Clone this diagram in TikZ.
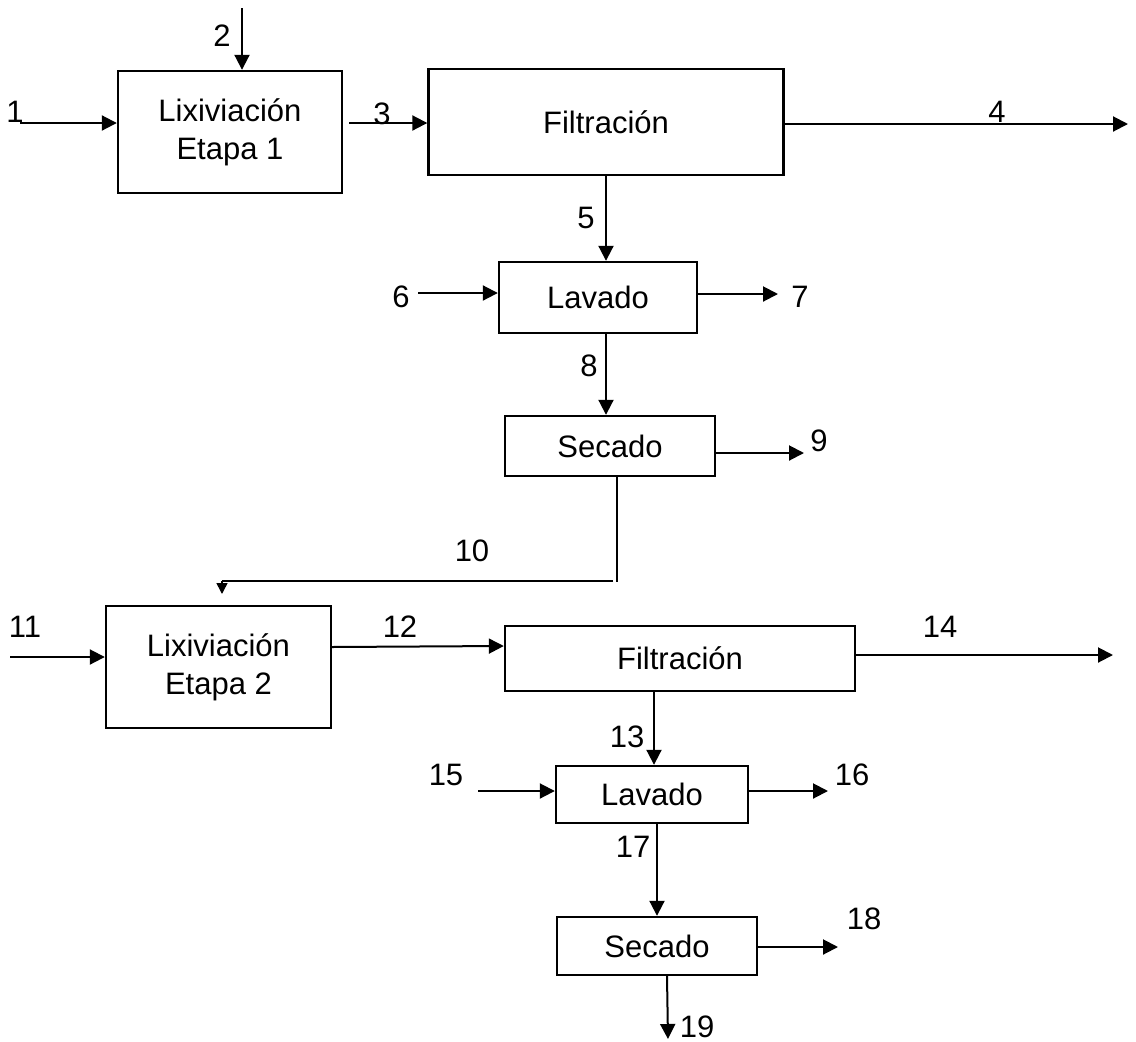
\documentclass[tikz,border=0pt]{standalone}
\usepackage{fontspec}
\setmainfont{Liberation Sans}
\usetikzlibrary{arrows.meta}
\begin{document}
\begin{tikzpicture}[x=1pt,y=-1pt,
  font=\fontsize{31}{38}\selectfont,
  unit/.style={draw, line width=2.4pt, align=center, inner sep=0pt},
  flow/.style={line width=2pt, -{Triangle[length=15pt,width=15pt]}},
  thinflow/.style={line width=1.3pt},
  lbl/.style={inner sep=0pt}]
\useasboundingbox (0,0) rectangle (1136,1042);

% ---- first stage ----
\node[unit, minimum width=224pt, minimum height=122pt] (lix1) at (230,132) {Lixiviación\\Etapa 1};
\node[unit, minimum width=355pt, minimum height=106pt] (fil1) at (606,122) {Filtración};
\node[unit, minimum width=198pt, minimum height=71pt] (lav1) at (598,297.5) {Lavado};
\node[unit, minimum width=210pt, minimum height=60pt] (sec1) at (610,446) {Secado};

% ---- second stage ----
\node[unit, minimum width=225pt, minimum height=122pt] (lix2) at (218.5,667) {Lixiviación\\Etapa 2};
\node[unit, minimum width=350pt, minimum height=65pt] (fil2) at (680,658.5) {Filtración};
\node[unit, minimum width=192pt, minimum height=57pt] (lav2) at (652,794.5) {Lavado};
\node[unit, minimum width=200pt, minimum height=58pt] (sec2) at (657,946) {Secado};

% free stream ends
\coordinate (s1) at (20,123);
\coordinate (s2) at (242,8);
\coordinate (s4) at (1128,124);
\coordinate (s6) at (418,293);
\coordinate (s7) at (778,294);
\coordinate (s9) at (804,453);
\coordinate (s10a) at (617,582);
\coordinate (s10b) at (222,581);
\coordinate (s10c) at (222,594);
\coordinate (s11) at (10,657);
\coordinate (s14) at (1113,655);
\coordinate (s15) at (478,791);
\coordinate (s16) at (828,791);
\coordinate (s18) at (838,947);
\coordinate (s19) at (668,1039);

% ---- streams, first stage ----
\draw[flow] (s1) -- (s1 -| lix1.west);
\draw[flow] (s2) -- (s2 |- lix1.north);
\draw[flow, shorten <=6pt] (lix1.east |- s1) -- (fil1.west |- s1);
\draw[flow] (fil1.east |- s4) -- (s4);
\draw[flow] (fil1.south) -- (fil1.south |- lav1.north);
\draw[flow] (s6) -- (s6 -| lav1.west);
\draw[flow] (lav1.east |- s7) -- (s7);
\draw[flow] (lav1.south -| fil1.south) -- (fil1.south |- sec1.north);
\draw[flow] (sec1.east |- s9) -- (s9);
\draw[thinflow] (sec1.south -| s10a) -- (s10a);
\draw[thinflow] (613,581) -- (s10b);
\draw[flow, line width=1.5pt, -{Triangle[length=11pt,width=11pt]}] (s10b) -- (s10c);

% ---- streams, second stage ----
\draw[flow] (s11) -- (s11 -| lix2.west);
\draw[flow] (lix2.east |- 0,647) -- (fil2.west |- 0,646);
\draw[flow] (fil2.east |- s14) -- (s14);
\draw[flow] (fil2.south -| 654,0) -- (lav2.north -| 654,0);
\draw[flow] (s15) -- (s15 -| lav2.west);
\draw[flow] (lav2.east |- s16) -- (s16);
\draw[flow] (lav2.south -| sec2.north) -- (sec2.north);
\draw[flow] (sec2.east |- s18) -- (s18);
\draw[flow] (sec2.south -| 667,0) -- (s19);

% ---- stream numbers ----
\node[lbl] (n1) at (15,112) {1};
\node[lbl] (n2) at (222,36) {2};
\node[lbl] (n3) at (382,114) {3};
\node[lbl] (n4) at (997,112) {4};
\node[lbl] (n5) at (586,218) {5};
\node[lbl] (n6) at (401,297) {6};
\node[lbl] (n7) at (800,297) {7};
\node[lbl] (n8) at (589,366) {8};
\node[lbl] (n9) at (819,441) {9};
\node[lbl] (n10) at (472,551) {10};
\node[lbl] (n11) at (25,627) {11};
\node[lbl] (n12) at (400,627) {12};
\node[lbl] (n13) at (627,737) {13};
\node[lbl] (n14) at (940,627) {14};
\node[lbl] (n15) at (446,775) {15};
\node[lbl] (n16) at (852,775) {16};
\node[lbl] (n17) at (633,847) {17};
\node[lbl] (n18) at (864,919) {18};
\node[lbl] (n19) at (697,1027) {19};
\end{tikzpicture}
\end{document}
